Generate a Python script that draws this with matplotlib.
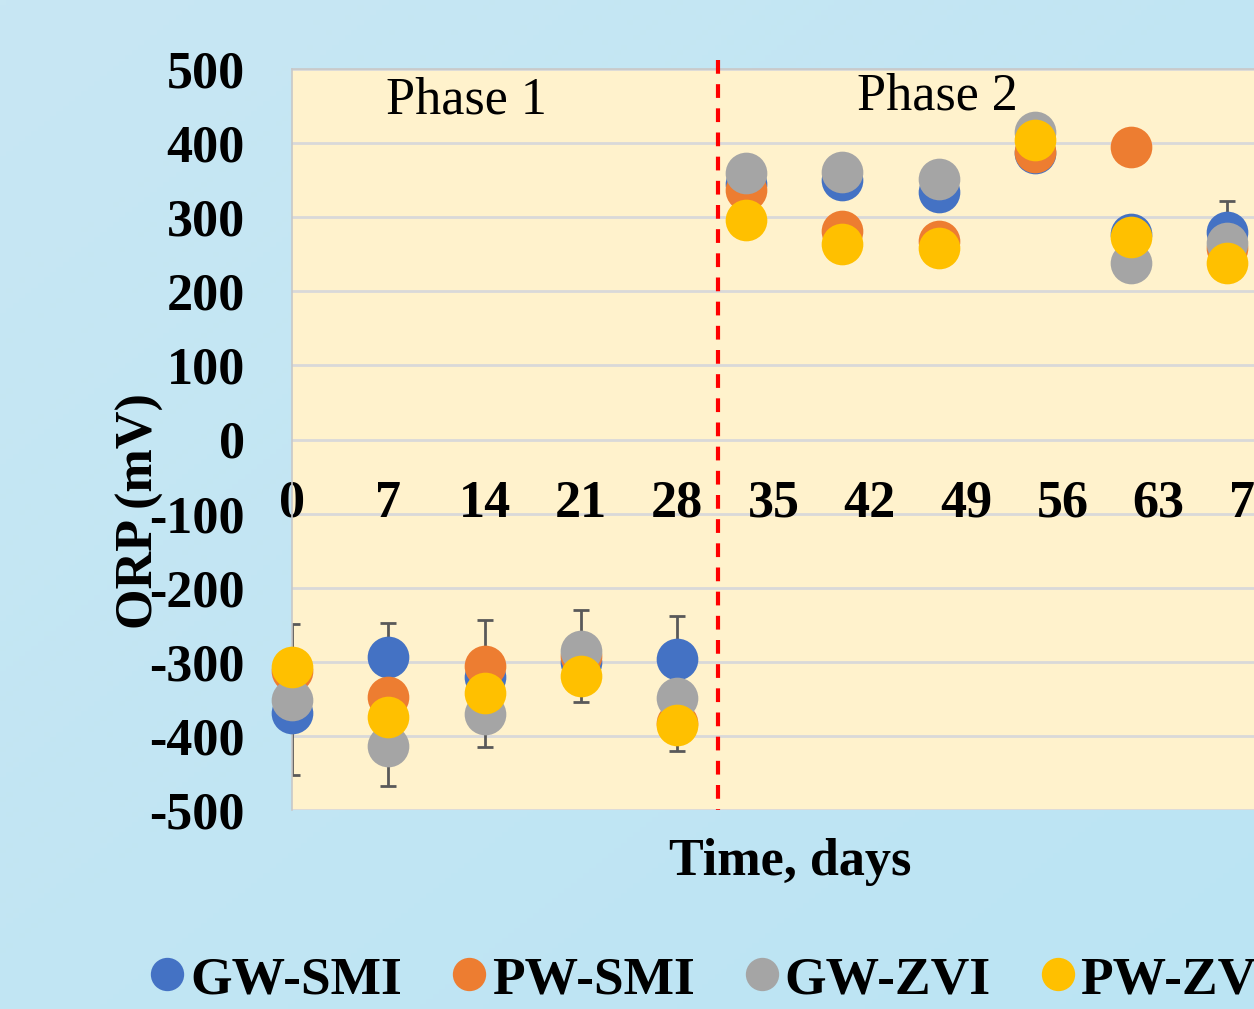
import numpy as np
import matplotlib
matplotlib.use("Agg")
import matplotlib.pyplot as plt
from matplotlib.lines import Line2D

plt.rcParams['font.family'] = ['Liberation Serif', 'DejaVu Serif']
plt.rcParams['axes.unicode_minus'] = False

# Sampling days (phase 1 and phase 2)
days = [0, 7, 14, 21, 28, 33, 40, 47, 54, 61, 68]

# ORP readings, mV
gw_smi = [-369, -294, -320, -300, -296, 345, 350, 334, 386, 277, 280]
pw_smi = [-312, -347, -305, -292, -382, 337, 282, 268, 388, 395, 258]
gw_zvi = [-351, -413, -370, -285, -349, 359, 361, 352, 415, 238, 265]
pw_zvi = [-307, -374, -342, -319, -385, 296, 264, 258, 404, 273, 238]

# Standard deviations, mV
gw_smi_err = [0, 47, 0, 0, 58, 0, 0, 0, 0, 0, 42]
pw_smi_err = [0, 0, 62, 62, 38, 0, 0, 0, 0, 0, 0]
gw_zvi_err = [102, 55, 45, 0, 0, 0, 0, 0, 0, 0, 0]
pw_zvi_err = [0, 0, 0, 0, 0, 0, 0, 0, 0, 0, 0]

series_names = ['GW-SMI', 'PW-SMI', 'GW-ZVI', 'PW-ZVI']
series_values = [gw_smi, pw_smi, gw_zvi, pw_zvi]
series_errors = [gw_smi_err, pw_smi_err, gw_zvi_err, pw_zvi_err]
series_colors = ['#4472C4', '#ED7D31', '#A5A5A5', '#FFC000']

x_ticks = list(range(0, 71, 7))
y_ticks = list(range(-500, 501, 100))
phase_boundary = 31
phase_labels = ['Phase 1', 'Phase 2']

W, H, DPI = 1254, 1009, 100
fig = plt.figure(figsize=(W / DPI, H / DPI), dpi=DPI)

# light blue backdrop with a gentle gradient
bg = fig.add_axes([0, 0, 1, 1], zorder=-10)
gy, gx = np.mgrid[0:1:200j, 0:1:200j]
t = 0.5 * gx + 0.5 * gy
c0 = np.array([0xC8, 0xE7, 0xF3]) / 255
c1 = np.array([0xBB, 0xE4, 0xF3]) / 255
img = c0[None, None, :] * (1 - t[..., None]) + c1[None, None, :] * t[..., None]
bg.imshow(img, aspect='auto', extent=[0, 1, 0, 1], origin='upper')
bg.set_axis_off()
fig.patch.set_facecolor('#C4E6F3')

px_per_day = 96.3 / 7
x_max = 77
left = 292 / W
bottom = (H - 810) / H
height = 741 / H
width = x_max * px_per_day / W
ax = fig.add_axes([left, bottom, width, height])
ax.set_facecolor('#FFF2CC')
ax.set_xlim(0, x_max)
ax.set_ylim(-500, 500)

for s in ['top', 'right', 'left']:
    ax.spines[s].set_color('#C8C8C8')
    ax.spines[s].set_linewidth(1.2)
ax.spines['bottom'].set_position(('data', 0))
ax.spines['bottom'].set_visible(False)

ax.set_yticks(y_ticks)
ax.set_yticklabels([str(v) for v in y_ticks])
ax.set_xticks(x_ticks)
ax.set_xticklabels([str(v) for v in x_ticks])
ax.tick_params(axis='y', length=0, pad=34, labelsize=37.5)
ax.tick_params(axis='x', length=0, pad=29, labelsize=37.5)
for lab in ax.get_yticklabels() + ax.get_xticklabels():
    lab.set_fontweight('bold')
ax.yaxis.grid(True, color='#D9D9D9', linewidth=2)
ax.set_axisbelow(True)
# day labels sit above the horizontal gridlines
ax.xaxis.set_zorder(1)

# error bars beneath all markers
for vals, errs in zip(series_values, series_errors):
    ax.errorbar(days, vals, yerr=errs, fmt='none', ecolor='#595959',
                elinewidth=2, capsize=6, capthick=2, zorder=2)

for name, vals, col in zip(series_names, series_values, series_colors):
    ax.plot(days, vals, linestyle='none', marker='o', markersize=30,
            markerfacecolor=col, markeredgewidth=0, zorder=3, label=name,
            clip_on=False)

# boundary between the two phases
ax.plot([phase_boundary, phase_boundary], [512, -500], color='#FF0000',
        linewidth=3, linestyle=(0, (3.3, 2.5)), clip_on=False, zorder=4)

ax.text(12.7, 458, phase_labels[0], ha='center', va='center', fontsize=37.5)
ax.text(46.9, 463, phase_labels[1], ha='center', va='center', fontsize=37.5)

fig.text(790 / W, 1 - 862 / H, 'Time, days', ha='center', va='center',
         fontsize=37.5, fontweight='bold')
fig.text(140 / W, 1 - 511 / H, 'ORP (mV)', ha='center', va='center',
         rotation=90, fontsize=37.5, fontweight='bold', zorder=1)

handles = [Line2D([], [], linestyle='none', marker='o', markersize=24,
                  markerfacecolor=c, markeredgewidth=0) for c in series_colors]
leg = fig.legend(handles, series_names, loc='center left',
                 bbox_to_anchor=(146 / W, 1 - 980 / H), ncol=4, frameon=False,
                 prop={'size': 38.5, 'weight': 'bold'}, handlelength=0.8,
                 handletextpad=0.03, columnspacing=0.85, borderaxespad=0,
                 borderpad=0)

fig.savefig('out.png', dpi=DPI, facecolor=fig.get_facecolor())
